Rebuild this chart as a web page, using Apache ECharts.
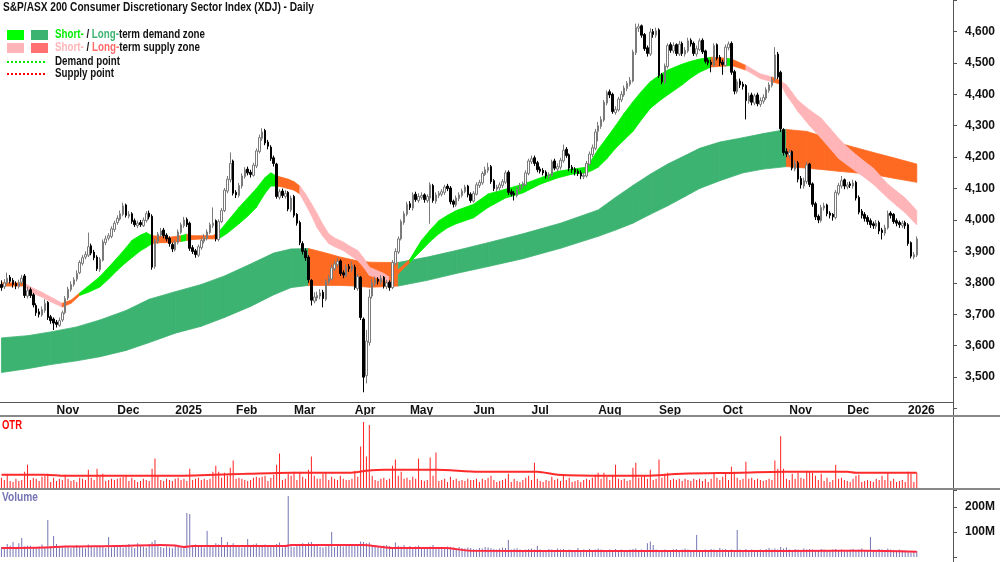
<!DOCTYPE html>
<html>
<head>
<meta charset="utf-8">
<title>XDJ Daily</title>
<script src="https://cdn.jsdelivr.net/npm/echarts@6.0.0/dist/echarts.min.js"></script>
<style>
  html, body { margin: 0; padding: 0; background: #fff; }
  #main { width: 1000px; height: 562px; }
</style>
</head>
<body>
<div id="main"></div>
<script>
// 字体
const FONT = "'Liberation Sans', Arial, sans-serif";

// 交易日设置
const firstDay = '2024-10-07';
const slotCount = 329;
const holidays = ['2024-12-25', '2024-12-26', '2025-01-01', '2025-01-27', '2025-04-18', '2025-04-21',
  '2025-04-25', '2025-06-09', '2025-12-25', '2025-12-26', '2026-01-01'];
const monthNames = ['Jan', 'Feb', 'Mar', 'Apr', 'May', 'Jun', 'Jul', 'Aug', 'Sep', 'Oct', 'Nov', 'Dec'];

// K线数据
const opens = [
  3795,3788,3800,3818,3808,3798,3788,3802,3822,3758,
  3778,3762,3728,3708,3698,3712,3738,3692,3685,3675,
  3665,3682,3705,3752,3778,3795,3812,3832,3862,3882,
  3888,3918,3898,3882,3842,3872,3928,3942,3948,3970,
  3992,4003,4018,4048,4012,4020,3998,3982,3992,3982,
  3998,4022,4012,3852,3932,3952,3968,3952,3942,3922,
  3905,3928,3960,3982,4002,3990,3912,3902,3888,3912,
  3932,3942,3960,3982,3998,3938,3995,4030,4092,4128,
  4188,4088,4078,4108,4138,4162,4152,4142,4172,4218,
  4260,4285,4248,4232,4198,4178,4072,4092,4075,4088,
  4032,4075,4018,3992,3925,3902,3882,3808,3742,3752,
  3758,3770,3748,3802,3812,3845,3858,3870,3832,3822,
  3852,3842,3850,3782,3818,3685,3505,3610,3758,3798,
  3812,3802,3818,3788,3802,3785,3862,3898,3940,3992,
  4018,4052,4038,4082,4062,4072,4080,4062,4070,4110,
  4060,4078,4082,4088,4108,4102,4060,4048,4068,4078,
  4090,4108,4082,4060,4082,4110,4118,4145,4158,4170,
  4125,4098,4102,4110,4120,4152,4090,4085,4078,4095,
  4108,4112,4148,4185,4198,4182,4162,4158,4152,4138,
  4142,4188,4162,4168,4188,4225,4208,4168,4162,4155,
  4150,4138,4140,4178,4208,4228,4282,4298,4318,4372,
  4408,4400,4342,4350,4382,4398,4418,4432,4442,4532,
  4610,4618,4590,4548,4528,4600,4588,4605,4462,4438,
  4488,4558,4538,4558,4528,4562,4528,4538,4572,4562,
  4528,4542,4572,4538,4508,4502,4492,4558,4518,4502,
  4492,4548,4562,4472,4408,4442,4432,4428,4378,4398,
  4372,4398,4368,4378,4388,4412,4428,4448,4528,4470,
  4288,4218,4205,4218,4162,4182,4132,4108,4122,4178,
  4115,4052,4012,3998,4038,4048,4022,4018,4008,4085,
  4108,4128,4105,4115,4108,4120,4072,4028,4018,4008,
  3998,3988,3980,3992,3968,3958,3975,4022,4018,3998,
  3992,3982,3992,3985,3928,3882,3888
];
const closes = [
  3785,3800,3815,3805,3795,3790,3800,3815,3760,3775,
  3760,3730,3705,3700,3715,3735,3690,3680,3672,3668,
  3680,3705,3750,3780,3795,3810,3830,3865,3880,3890,
  3915,3895,3880,3845,3875,3930,3940,3950,3972,3990,
  4005,4020,4045,4015,4018,3995,3985,3990,3985,4000,
  4020,4010,3850,3935,3955,3965,3950,3940,3925,3908,
  3930,3962,3985,4000,3985,3910,3900,3890,3915,3935,
  3945,3962,3985,3990,3940,3995,4030,4095,4130,4180,
  4085,4080,4110,4140,4160,4150,4145,4175,4220,4262,
  4280,4245,4235,4195,4180,4075,4090,4078,4085,4035,
  4070,4015,3990,3928,3900,3880,3810,3745,3755,3760,
  3768,3750,3805,3815,3848,3860,3868,3830,3825,3850,
  3845,3855,3785,3820,3690,3500,3615,3755,3800,3810,
  3805,3815,3790,3800,3785,3865,3900,3940,3995,4020,
  4050,4040,4080,4065,4075,4078,4065,4075,4112,4062,
  4080,4085,4090,4105,4100,4058,4050,4070,4080,4092,
  4105,4080,4062,4085,4112,4120,4148,4160,4168,4122,
  4100,4105,4112,4122,4150,4088,4082,4080,4098,4110,
  4115,4150,4188,4195,4180,4160,4155,4150,4140,4145,
  4185,4165,4170,4190,4222,4205,4165,4160,4152,4148,
  4140,4142,4180,4210,4230,4280,4300,4320,4375,4405,
  4398,4345,4352,4385,4400,4420,4435,4445,4535,4612,
  4615,4588,4545,4530,4598,4590,4602,4460,4440,4490,
  4555,4540,4555,4530,4560,4530,4540,4570,4560,4530,
  4545,4570,4535,4505,4500,4495,4555,4515,4500,4495,
  4550,4560,4470,4410,4440,4430,4425,4380,4395,4375,
  4395,4370,4380,4390,4415,4430,4445,4525,4455,4290,
  4215,4210,4215,4165,4180,4130,4112,4125,4175,4113,
  4050,4010,4000,4040,4045,4020,4015,4010,4088,4110,
  4125,4108,4112,4110,4118,4070,4025,4015,4005,3995,
  3985,3982,3990,3965,3960,3975,4020,4015,3995,3990,
  3985,3990,3982,3925,3885,3890,3940
];
const lows = [
  3775,3780,3795,3798,3785,3780,3782,3795,3752,3750,
  3752,3722,3695,3690,3692,3705,3682,3670,3650,3658,
  3660,3676,3700,3745,3772,3788,3805,3828,3855,3875,
  3882,3888,3872,3838,3835,3868,3920,3935,3942,3962,
  3985,3998,4012,4008,4005,3988,3978,3975,3978,3978,
  3992,4002,3842,3845,3925,3945,3942,3932,3915,3898,
  3900,3922,3955,3975,3978,3902,3892,3880,3882,3905,
  3925,3935,3955,3975,3932,3932,3990,4025,4085,4120,
  4078,4070,4072,4100,4132,4142,4135,4138,4165,4212,
  4252,4238,4225,4188,4170,4068,4065,4070,4068,4028,
  4025,4008,3982,3920,3890,3870,3800,3728,3735,3742,
  3748,3722,3742,3795,3808,3838,3850,3822,3815,3818,
  3835,3835,3778,3775,3682,3452,3480,3600,3750,3790,
  3795,3795,3782,3780,3775,3780,3855,3892,3935,3985,
  4012,4032,4030,4058,4055,4065,4055,4055,3988,4055,
  4052,4070,4075,4080,4092,4050,4040,4042,4060,4072,
  4085,4072,4055,4055,4078,4102,4112,4140,4150,4115,
  4092,4090,4095,4102,4115,4080,4075,4062,4072,4090,
  4100,4108,4142,4178,4172,4152,4148,4142,4132,4130,
  4138,4158,4155,4160,4182,4198,4155,4150,4142,4140,
  4130,4130,4135,4172,4200,4222,4250,4290,4312,4365,
  4388,4338,4335,4345,4375,4392,4410,4425,4438,4525,
  4598,4580,4538,4520,4522,4580,4580,4452,4432,4432,
  4482,4532,4530,4522,4522,4522,4520,4532,4552,4522,
  4520,4538,4528,4498,4492,4470,4488,4508,4490,4462,
  4488,4540,4462,4400,4402,4420,4415,4320,4370,4365,
  4365,4362,4360,4370,4382,4405,4422,4442,4448,4280,
  4205,4200,4195,4158,4155,4120,4100,4100,4115,4105,
  4042,4000,3990,3992,4030,4012,4005,3998,4002,4078,
  4100,4098,4098,4102,4100,4062,4018,4005,3995,3985,
  3975,3972,3972,3955,3938,3950,3970,4005,3988,3980,
  3975,3975,3972,3918,3878,3875,3882
];
const highs = [
  3808,3812,3833,3825,3815,3805,3810,3825,3828,3788,
  3785,3768,3735,3718,3725,3748,3742,3698,3690,3682,
  3690,3712,3758,3788,3805,3818,3840,3872,3888,3900,
  3960,3925,3905,3888,3882,3938,3950,3958,3980,3998,
  4015,4030,4055,4052,4028,4025,4005,3998,4000,4008,
  4028,4030,4018,3942,3962,3975,3975,3958,3948,3928,
  3938,3970,3992,4010,4008,3995,3920,3908,3922,3942,
  3955,3970,3992,4040,4002,4002,4038,4102,4140,4215,
  4192,4095,4118,4148,4168,4170,4160,4182,4228,4272,
  4292,4290,4255,4238,4205,4182,4098,4100,4095,4092,
  4078,4080,4022,3998,3932,3910,3888,3812,3770,3772,
  3780,3778,3812,3825,3858,3870,3880,3875,3840,3858,
  3860,3868,3858,3830,3822,3690,3650,3780,3812,3820,
  3818,3825,3822,3810,3808,3872,3910,3948,4002,4028,
  4058,4060,4088,4090,4085,4088,4085,4082,4120,4115,
  4088,4092,4098,4112,4115,4108,4065,4078,4088,4100,
  4112,4112,4088,4092,4120,4128,4155,4170,4182,4175,
  4130,4112,4120,4130,4158,4158,4098,4092,4105,4118,
  4122,4158,4195,4205,4205,4188,4170,4165,4158,4152,
  4192,4195,4180,4198,4240,4232,4212,4175,4168,4162,
  4158,4150,4188,4218,4240,4290,4312,4330,4382,4412,
  4415,4405,4362,4392,4410,4428,4442,4455,4542,4625,
  4625,4622,4595,4555,4610,4608,4612,4610,4468,4498,
  4562,4565,4565,4562,4570,4568,4550,4580,4578,4568,
  4555,4578,4578,4542,4515,4510,4562,4562,4525,4510,
  4558,4568,4568,4478,4448,4450,4440,4432,4405,4405,
  4402,4405,4390,4400,4422,4438,4455,4550,4535,4475,
  4292,4228,4225,4222,4190,4188,4140,4135,4185,4182,
  4120,4058,4018,4048,4055,4052,4028,4022,4095,4118,
  4140,4132,4120,4122,4128,4125,4078,4035,4025,4015,
  4005,3995,4000,3998,3975,3985,4030,4028,4022,4005,
  3998,3998,3998,3990,3932,3898,3948
];

// 短期区间（采样点）
const stIdx = [0, 8, 10, 14, 17, 21, 24, 27, 30, 34, 37, 40, 43, 45, 48, 50, 52, 55, 58, 62,
  64, 66, 70, 73, 75, 78, 82, 85, 88, 91, 93, 95, 97, 99, 101, 103, 105, 107, 109, 111,
  113, 115, 118, 120, 123, 125, 127, 130, 132, 134, 137, 141, 143, 145, 148, 151, 154, 157, 163, 168,
  174, 180, 186, 192, 197, 202, 204, 206, 209, 212, 215, 218, 221, 224, 227, 230, 235, 238, 241, 245,
  250, 252, 257, 262, 266, 269, 271, 273, 275, 279, 283, 286, 289, 292, 295, 298, 301, 306, 309, 312, 316];
const stLo = [3790, 3790, 3770, 3755, 3740, 3723, 3735, 3760, 3770, 3787, 3812, 3840, 3865, 3880, 3902, 3913, 3925, 3928, 3928, 3932,
  3935, 3938, 3940, 3940, 3940, 3958, 3988, 4012, 4040, 4085, 4108, 4108, 4105, 4100, 4095, 4083, 4050, 4015, 3975, 3948,
  3925, 3915, 3903, 3890, 3871, 3850, 3824, 3815, 3808, 3800, 3830, 3865, 3885, 3903, 3932, 3956, 3975, 3988, 4007, 4040,
  4070, 4086, 4114, 4134, 4146, 4150, 4158, 4168, 4195, 4228, 4255, 4282, 4320, 4355, 4378, 4398, 4430, 4452, 4470, 4487,
  4490, 4492, 4477, 4450, 4440, 4432, 4398, 4372, 4345, 4300, 4260, 4228, 4196, 4175, 4155, 4135, 4114, 4070, 4046, 4023, 3985];
const stHi = [3800, 3800, 3787, 3770, 3755, 3735, 3745, 3768, 3790, 3820, 3850, 3880, 3912, 3935, 3952, 3960, 3950, 3948, 3945, 3950,
  3955, 3950, 3950, 3950, 3962, 3995, 4040, 4070, 4100, 4135, 4150, 4140, 4135, 4130, 4122, 4108, 4083, 4052, 4020, 3985,
  3956, 3943, 3930, 3918, 3903, 3880, 3850, 3838, 3830, 3818, 3842, 3875, 3905, 3935, 3968, 3998, 4015, 4030, 4050, 4083,
  4098, 4114, 4134, 4155, 4162, 4168, 4195, 4225, 4262, 4300, 4340, 4376, 4410, 4440, 4460, 4477, 4496, 4505, 4512, 4518,
  4515, 4512, 4492, 4465, 4455, 4442, 4430, 4405, 4380, 4350, 4324, 4292, 4260, 4232, 4208, 4186, 4165, 4114, 4092, 4070, 4030];
// d = 需求（亮绿），s = 供给（粉色），o = 橙色
const stZone = ('o' + 'ssss' + 'oo' + 'd'.repeat(9) + 'ooo' + 'd' + 'oooo' + 'd'.repeat(7) + 'oooo' +
  's'.repeat(14) + 'oo' + 'd'.repeat(28) + 'o' + 'd' + 'o' + 'ss' + 'o' + 's'.repeat(16)).split('');

// 长期区间（采样点）
const ltIdx = [0, 9, 17, 26, 34, 43, 51, 60, 69, 77, 86, 94, 100, 106, 112, 117, 122, 127, 132, 137,
  147, 157, 168, 180, 193, 206, 212, 218, 224, 230, 236, 241, 248, 256, 263, 271, 278, 284, 289, 295, 301, 308, 316];
const ltLo = [3515, 3527, 3540, 3552, 3565, 3585, 3610, 3640, 3662, 3690, 3725, 3762, 3785, 3792, 3792, 3792, 3790, 3786, 3788, 3790,
  3808, 3830, 3852, 3877, 3910, 3948, 3968, 3990, 4018, 4045, 4075, 4100, 4125, 4150, 4162, 4170, 4165, 4160, 4155, 4150, 4145, 4133, 4120];
const ltHi = [3625, 3632, 3644, 3660, 3682, 3712, 3748, 3772, 3795, 3822, 3860, 3895, 3908, 3909, 3895, 3882, 3872, 3866, 3865, 3865,
  3882, 3903, 3928, 3956, 3990, 4032, 4072, 4110, 4146, 4178, 4205, 4228, 4248, 4262, 4275, 4288, 4282, 4265, 4245, 4230, 4215, 4198, 4178];
// D = 长期需求（深绿），O = 长期供给（橙色）
const ltZone = ('D'.repeat(13) + 'O'.repeat(6) + 'D'.repeat(16) + 'O'.repeat(8)).split('');

const zoneColors = { d: '#00ee00', s: '#ffb5b8', o: '#ff6a22', D: '#3cb371', O: '#ff6a22' };

// OTR 数据
const otr = [
  1.0,0.8,1.3,0.7,0.6,0.9,0.7,0.8,1.6,2.3,
  0.8,1.0,0.9,0.7,1.1,1.2,1.4,0.6,1.0,0.7,
  0.9,0.8,1.3,0.9,0.7,0.8,0.6,1.0,0.9,0.8,
  1.8,1.0,0.8,1.9,1.1,1.4,0.7,0.8,0.9,0.8,
  0.9,1.0,1.1,1.2,0.7,1.0,0.8,0.6,0.7,0.9,
  0.8,0.7,1.9,2.9,1.2,0.8,0.7,0.9,0.8,0.7,
  0.9,1.0,0.8,0.9,0.7,1.9,0.8,0.9,1.0,0.8,
  0.9,0.8,0.9,1.6,2.2,1.6,1.0,1.5,1.2,2.0,
  2.7,0.9,1.0,0.9,0.8,0.7,0.8,1.0,1.1,1.0,
  1.1,1.2,0.7,1.0,1.3,2.3,3.4,0.8,0.9,1.4,
  1.2,1.6,0.8,1.6,1.1,0.9,1.8,3.1,1.2,0.9,
  0.9,1.4,1.5,0.8,1.1,0.9,0.8,1.2,0.9,0.8,
  0.8,0.9,1.7,1.1,4.1,6.5,3.1,6.2,1.2,0.8,
  0.7,0.9,1.0,0.8,0.9,2.2,2.8,1.2,1.6,0.9,
  1.0,0.8,1.1,0.9,2.9,0.8,0.7,0.8,3.0,1.2,
  3.5,0.7,0.8,0.9,0.6,1.1,0.8,0.9,0.7,0.8,
  0.7,0.9,0.8,0.8,0.9,0.6,0.9,0.8,1.0,1.2,
  0.8,0.6,0.7,0.8,0.9,1.4,0.6,0.9,0.7,0.6,
  0.8,1.0,1.2,0.8,2.5,0.9,0.7,0.6,0.8,0.7,
  1.1,0.8,0.9,0.7,1.3,0.8,1.0,0.6,0.7,0.8,
  0.6,0.8,0.9,0.8,1.0,1.3,1.5,0.9,1.5,1.1,
  0.8,1.2,2.3,0.9,0.8,0.9,0.7,0.8,2.0,2.5,
  1.0,1.1,1.2,0.9,1.8,0.8,0.9,2.8,1.0,1.4,
  1.5,0.8,0.9,0.8,0.9,0.7,0.9,0.8,0.7,0.9,
  0.8,0.9,0.7,0.9,0.6,0.9,1.5,1.0,0.8,1.1,
  1.4,0.8,2.1,1.6,1.0,0.8,0.9,2.6,0.9,1.0,
  0.8,0.9,0.8,0.7,0.8,0.9,0.8,2.7,1.9,5.1,
  1.9,0.9,0.8,1.4,0.9,1.5,1.0,0.9,1.7,1.6,
  1.5,1.2,0.8,1.4,0.7,1.0,0.6,0.8,2.3,0.9,
  1.0,0.8,0.7,0.6,0.9,1.2,1.3,0.6,0.7,0.8,
  0.7,0.6,0.9,0.8,1.2,0.8,1.5,0.7,0.9,0.6,
  0.7,0.8,0.6,1.6,1.4,0.6,1.5
];
const otrMaIdx = [0, 15, 22, 60, 85, 100, 120, 126, 132, 150, 165, 185, 192, 210, 222, 235, 255, 270, 292, 295, 316];
const otrMa = [1.3, 1.3, 1.2, 1.2, 1.4, 1.5, 1.5, 1.7, 1.8, 1.8, 1.6, 1.6, 1.3, 1.2, 1.2, 1.4, 1.5, 1.6, 1.6, 1.5, 1.5];

// 成交量（百万）
const volume = [
  40,35,52,45,60,38,55,76,42,45,
  45,40,38,42,50,36,148,44,84,52,
  40,38,45,42,36,40,48,44,38,35,
  50,42,38,45,45,40,36,80,38,48,
  44,40,38,46,52,40,36,55,44,42,
  38,52,60,68,45,40,36,42,38,35,
  45,40,38,42,176,172,48,50,46,40,
  38,104,45,42,55,50,80,46,60,48,
  55,44,40,38,42,72,40,50,54,48,
  45,50,42,48,40,52,58,38,44,244,
  42,40,48,45,55,50,58,60,48,44,
  40,38,42,52,100,40,44,48,42,50,
  46,44,52,48,62,60,55,58,48,44,
  42,40,46,48,44,40,58,45,42,48,
  40,44,38,42,46,40,36,38,42,48,
  40,36,38,35,42,40,38,34,40,36,
  34,38,36,32,30,36,34,40,38,35,
  32,30,34,38,36,68,30,33,35,30,
  28,30,32,34,30,45,30,28,26,32,
  30,28,34,30,32,26,30,28,26,36,
  28,30,26,32,28,30,34,30,28,26,
  30,28,32,26,30,28,25,30,32,34,
  28,30,26,55,62,48,30,28,26,30,
  28,26,30,32,28,30,34,30,28,26,
  88,28,26,30,28,32,30,28,36,30,
  32,28,30,26,108,30,26,32,28,30,
  28,26,30,28,32,36,30,34,30,40,
  34,38,30,28,32,30,28,34,30,32,
  30,28,26,32,30,28,26,30,32,28,
  30,28,26,30,32,28,30,34,28,26,
  80,28,26,32,30,28,34,30,28,26,
  30,28,26,20,18,22,24
];
const volMaIdx = [0, 15, 22, 40, 55, 60, 63, 66, 98, 100, 125, 130, 135, 153, 162, 200, 250, 290, 305, 316];
const volMa = [36, 38, 42, 44, 48, 46, 40, 44, 44, 48, 48, 42, 36, 36, 25, 24, 24, 25, 24, 21];

// 文本
const titleText = 'S&P/ASX 200 Consumer Discretionary Sector Index (XDJ) - Daily';

// 生成交易日
const days = [];
const cur = new Date(firstDay + 'T00:00:00Z');
while (days.length < slotCount) {
  const wd = cur.getUTCDay();
  const s = cur.toISOString().slice(0, 10);
  if (wd !== 0 && wd !== 6 && holidays.indexOf(s) < 0) days.push(s);
  cur.setUTCDate(cur.getUTCDate() + 1);
}
function isMonthStart(i) {
  return i > 0 && days[i].slice(5, 7) !== days[i - 1].slice(5, 7);
}
function monthLabel(s) {
  const m = +s.slice(5, 7);
  return m === 1 ? s.slice(0, 4) : monthNames[m - 1];
}
function thousands(v) {
  return String(v).replace(/\B(?=(\d{3})+(?!\d))/g, ',');
}

// 原图用的是窄体字，这里按目标宽度横向压缩
const measureCtx = document.createElement('canvas').getContext('2d');
function fitScale(text, target) {
  measureCtx.font = 'bold 12px ' + FONT;
  return target / measureCtx.measureText(text).width;
}

// K线：[open, close, low, high]
const candleData = closes.map((c, i) => [opens[i], c, lows[i], highs[i]]);

// 区间分段多边形
function buildSegments(idx, lo, hi, zone) {
  const segs = [];
  for (let k = 0; k < idx.length - 1; k++) {
    segs.push({ value: [idx[k], lo[k], hi[k], idx[k + 1], lo[k + 1], hi[k + 1]], zone: zone[k] });
  }
  return segs;
}
const ltSegs = buildSegments(ltIdx, ltLo, ltHi, ltZone);
const stSegs = buildSegments(stIdx, stLo, stHi, stZone);

function bandRenderer(segs) {
  return function (params, api) {
    const color = zoneColors[segs[params.dataIndex].zone];
    const a = api.coord([api.value(0), api.value(1)]);
    const b = api.coord([api.value(0), api.value(2)]);
    const c = api.coord([api.value(3), api.value(5)]);
    const d = api.coord([api.value(3), api.value(4)]);
    return {
      type: 'polygon',
      shape: { points: [a, b, c, d] },
      style: { fill: color, stroke: color, lineWidth: 0.8 }
    };
  };
}

const labelFont = { fontFamily: FONT, fontWeight: 'bold', fontSize: 12, color: '#111' };
function richFont(color) {
  return { fill: color, fontFamily: FONT, fontWeight: 'bold', fontSize: 12 };
}

var myChart = echarts.init(document.getElementById('main'));

const option = {
  animation: false,
  backgroundColor: '#fff',
  grid: [
    { left: 0, right: 47, top: -2.6, height: 411.2 },
    { left: 0, right: 47, top: 417, height: 71 },
    { left: 0, right: 47, top: 490, height: 67 }
  ],
  xAxis: [
    {
      type: 'category', gridIndex: 0, data: days, boundaryGap: true, offset: -6.6,
      axisLine: { lineStyle: { color: '#555', width: 1 } },
      axisTick: { interval: (i) => isMonthStart(i), length: 10, lineStyle: { color: '#555' } },
      axisLabel: Object.assign({ interval: (i) => isMonthStart(i), formatter: (v) => monthLabel(v), align: 'left', margin: 3 }, labelFont),
      splitLine: { show: false }
    },
    { type: 'category', gridIndex: 1, data: days, boundaryGap: true, show: false },
    { type: 'category', gridIndex: 2, data: days, boundaryGap: true, show: false }
  ],
  yAxis: [
    {
      type: 'value', gridIndex: 0, position: 'right', min: 3400, max: 4700, interval: 100,
      axisLine: { show: false },
      axisTick: { show: true, length: 4, lineStyle: { color: '#555' } },
      axisLabel: Object.assign({ margin: 12, formatter: (v) => (v <= 3400 || v >= 4700) ? '' : thousands(v) }, labelFont),
      splitLine: { show: false }
    },
    { type: 'value', gridIndex: 1, min: 0, max: 7, show: false },
    {
      type: 'value', gridIndex: 2, position: 'right', min: 0, max: 268, interval: 100,
      axisLine: { show: false },
      axisTick: { show: true, length: 4, lineStyle: { color: '#555' } },
      axisLabel: Object.assign({ margin: 12, formatter: (v) => (v === 100 || v === 200) ? v + 'M' : '' }, labelFont),
      splitLine: { show: false }
    }
  ],
  series: [
    {
      name: 'long-term zone', type: 'custom', xAxisIndex: 0, yAxisIndex: 0, z: 1,
      renderItem: bandRenderer(ltSegs),
      encode: { x: [0, 3], y: [1, 2, 4, 5] },
      data: ltSegs.map(s => s.value)
    },
    {
      name: 'short-term zone', type: 'custom', xAxisIndex: 0, yAxisIndex: 0, z: 2,
      renderItem: bandRenderer(stSegs),
      encode: { x: [0, 3], y: [1, 2, 4, 5] },
      data: stSegs.map(s => s.value)
    },
    {
      name: 'XDJ', type: 'candlestick', xAxisIndex: 0, yAxisIndex: 0, z: 3,
      barWidth: 2,
      itemStyle: { color: '#ffffff', color0: '#000000', borderColor: '#7a7a7a', borderColor0: '#000000', borderWidth: 1 },
      data: candleData
    },
    {
      name: 'OTR', type: 'bar', xAxisIndex: 1, yAxisIndex: 1, barWidth: 1,
      itemStyle: { color: '#ff2020' }, data: otr
    },
    {
      name: 'OTR MA', type: 'line', xAxisIndex: 1, yAxisIndex: 1, showSymbol: false, smooth: 0.3,
      lineStyle: { color: '#ff2a2a', width: 2 },
      data: otrMaIdx.map((x, k) => [x, otrMa[k]])
    },
    {
      name: 'Volume', type: 'bar', xAxisIndex: 2, yAxisIndex: 2, barWidth: 1,
      itemStyle: { color: '#7575b5' }, data: volume
    },
    {
      name: 'Volume MA', type: 'line', xAxisIndex: 2, yAxisIndex: 2, showSymbol: false, smooth: 0.3,
      lineStyle: { color: '#ff2a40', width: 2 },
      data: volMaIdx.map((x, k) => [x, volMa[k]])
    }
  ],
  graphic: [
    { type: 'line', z: 10, shape: { x1: 953.5, y1: 0, x2: 953.5, y2: 562 }, style: { stroke: '#555', lineWidth: 1 } },
    { type: 'line', z: 10, shape: { x1: 0, y1: 416, x2: 1000, y2: 416 }, style: { stroke: '#888', lineWidth: 2 } },
    { type: 'line', z: 10, shape: { x1: 0, y1: 489, x2: 1000, y2: 489 }, style: { stroke: '#888', lineWidth: 2 } },
    {
      type: 'text', z: 10, x: 3, y: 2, scaleX: fitScale(titleText, 311),
      style: { text: titleText, fill: '#111', fontFamily: FONT, fontWeight: 'bold', fontSize: 12, verticalAlign: 'top' }
    },
    { type: 'rect', z: 10, shape: { x: 7, y: 30, width: 17, height: 10 }, style: { fill: '#00ff00' } },
    { type: 'rect', z: 10, shape: { x: 31, y: 30, width: 17, height: 10 }, style: { fill: '#3cb371' } },
    {
      type: 'text', z: 10, x: 55, y: 35, scaleX: fitScale('Short- / Long-term demand zone', 150),
      style: {
        text: '{g|Short-}{k| / }{dg|Long-}{k|term demand zone}', verticalAlign: 'middle',
        rich: { g: richFont('#00ee00'), dg: richFont('#3cb371'), k: richFont('#111') }
      }
    },
    { type: 'rect', z: 10, shape: { x: 7, y: 43, width: 17, height: 10 }, style: { fill: '#ffb5b8' } },
    { type: 'rect', z: 10, shape: { x: 31, y: 43, width: 17, height: 10 }, style: { fill: '#ff7070' } },
    {
      type: 'text', z: 10, x: 55, y: 48, scaleX: fitScale('Short- / Long-term supply zone', 145),
      style: {
        text: '{p|Short-}{k| / }{r|Long-}{k|term supply zone}', verticalAlign: 'middle',
        rich: { p: richFont('#ffb5b8'), r: richFont('#ff6b6b'), k: richFont('#111') }
      }
    },
    { type: 'line', z: 10, shape: { x1: 7, y1: 62, x2: 45, y2: 62 }, style: { stroke: '#00ee00', lineWidth: 2, lineDash: [2, 2] } },
    {
      type: 'text', z: 10, x: 55, y: 62, scaleX: fitScale('Demand point', 65),
      style: { text: 'Demand point', fill: '#111', fontFamily: FONT, fontWeight: 'bold', fontSize: 12, verticalAlign: 'middle' }
    },
    { type: 'line', z: 10, shape: { x1: 7, y1: 74, x2: 45, y2: 74 }, style: { stroke: '#ff0000', lineWidth: 2, lineDash: [2, 2] } },
    {
      type: 'text', z: 10, x: 55, y: 74, scaleX: fitScale('Supply point', 59),
      style: { text: 'Supply point', fill: '#111', fontFamily: FONT, fontWeight: 'bold', fontSize: 12, verticalAlign: 'middle' }
    },
    {
      type: 'text', z: 10, x: 2, y: 420, scaleX: fitScale('OTR', 20),
      style: { text: 'OTR', fill: '#ff0000', fontFamily: FONT, fontWeight: 'bold', fontSize: 12, verticalAlign: 'top' }
    },
    {
      type: 'text', z: 10, x: 2, y: 492, scaleX: fitScale('Volume', 36),
      style: { text: 'Volume', fill: '#7575b5', fontFamily: FONT, fontWeight: 'bold', fontSize: 12, verticalAlign: 'top' }
    }
  ]
};

myChart.setOption(option);
</script>
</body>
</html>
